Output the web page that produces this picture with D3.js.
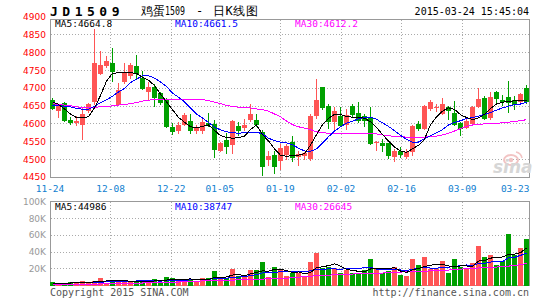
<!DOCTYPE html>
<html lang="zh">
<head>
<meta charset="UTF-8">
<title>JD1509 日K线图</title>
<script src="https://cdn.jsdelivr.net/npm/d3@7"></script>
<style>
  html, body { margin: 0; padding: 0; background: #fff; }
  svg { display: block; }
  text { font-family: "DejaVu Sans Mono", monospace; }
</style>
</head>
<body>
<svg width="545" height="300"></svg>
<script>
// 交易日
var dates = [
  "11-24","11-25","11-26","11-27","11-28","12-01","12-02","12-03","12-04","12-05",
  "12-08","12-09","12-10","12-11","12-12","12-15","12-16","12-17","12-18","12-19",
  "12-22","12-23","12-24","12-25","12-26","12-29","12-30","12-31","01-05","01-06",
  "01-07","01-08","01-09","01-12","01-13","01-14","01-15","01-16","01-19","01-20",
  "01-21","01-22","01-23","01-26","01-27","01-28","01-29","01-30","02-02","02-03",
  "02-04","02-05","02-06","02-09","02-10","02-11","02-12","02-13","02-16","02-17",
  "02-25","02-26","02-27","03-02","03-03","03-04","03-05","03-06","03-09","03-10",
  "03-11","03-12","03-13","03-16","03-17","03-18","03-19","03-20","03-23","03-24"
];

// K线 开 高 低 收
var open = [
  4668,4635,4659,4611,4603,4597,4635,4661,4741,4762,
  4770,4654,4719,4735,4764,4730,4689,4705,4687,4670,
  4590,4579,4597,4608,4579,4579,4602,4600,4523,4555,
  4540,4594,4588,4612,4612,4578,4500,4513,4497,4512,
  4549,4507,4509,4502,4621,4703,4651,4605,4623,4597,
  4650,4631,4622,4620,4547,4546,4546,4506,4523,4506,
  4520,4600,4586,4641,4645,4628,4647,4631,4603,4588,
  4600,4647,4672,4616,4691,4668,4675,4666,4663,4700
];
var high = [
  4672,4656,4661,4619,4621,4644,4660,4866,4805,4791,
  4814,4716,4771,4770,4794,4750,4717,4712,4690,4672,
  4603,4605,4630,4628,4598,4614,4632,4612,4550,4574,
  4612,4605,4615,4656,4627,4582,4525,4525,4545,4545,
  4565,4525,4522,4628,4726,4705,4655,4647,4649,4642,
  4657,4661,4628,4647,4552,4558,4547,4530,4534,4530,
  4597,4609,4652,4668,4656,4672,4650,4665,4605,4614,
  4650,4700,4678,4690,4692,4680,4722,4678,4687,4710
];
var low = [
  4638,4617,4605,4597,4593,4556,4630,4652,4738,4758,
  4717,4650,4712,4725,4725,4695,4667,4647,4652,4588,
  4568,4572,4593,4572,4572,4572,4590,4505,4520,4515,
  4515,4565,4580,4605,4590,4455,4483,4458,4470,4500,
  4492,4483,4500,4495,4614,4640,4586,4582,4593,4582,
  4616,4603,4590,4541,4525,4520,4502,4492,4504,4502,
  4509,4580,4582,4637,4634,4624,4612,4593,4566,4585,
  4596,4645,4612,4612,4659,4650,4631,4640,4659,4656
];
var close = [
  4642,4650,4607,4604,4609,4628,4656,4770,4766,4778,
  4745,4694,4744,4767,4740,4698,4703,4672,4660,4591,
  4576,4597,4626,4579,4588,4605,4596,4527,4547,4534,
  4607,4579,4596,4629,4596,4479,4510,4479,4533,4538,
  4504,4516,4518,4623,4666,4644,4605,4637,4595,4624,
  4625,4607,4607,4544,4550,4539,4511,4523,4513,4522,
  4593,4586,4650,4661,4648,4656,4635,4597,4586,4607,
  4647,4670,4614,4675,4670,4663,4659,4652,4684,4663
];

// 均线
var ma5 = [
  4662,4655,4642,4628,4618,4617,4620,4645,4680,4720,
  4742,4744,4745,4744,4742,4731,4723,4708,4684,4662,
  4640,4618,4605,4592,4589,4593,4597,4582,4567,4562,
  4560,4561,4566,4584,4597,4570,4552,4530,4512,4509,
  4511,4512,4517,4540,4570,4598,4616,4627,4626,4621,
  4619,4619,4616,4606,4590,4570,4552,4535,4524,4520,
  4530,4540,4557,4598,4620,4636,4645,4641,4626,4618,
  4612,4617,4627,4643,4656,4661,4663,4665,4665,4665
];
var ma10 = [
  4652,4651,4650,4648,4644,4641,4641,4650,4660,4668,
  4678,4690,4700,4716,4726,4735,4735,4729,4718,4705,
  4687,4675,4662,4645,4628,4617,4604,4591,4583,4578,
  4575,4574,4575,4577,4577,4572,4560,4553,4549,4547,
  4541,4532,4524,4523,4530,4546,4564,4580,4592,4602,
  4608,4614,4619,4619,4613,4603,4593,4581,4568,4557,
  4549,4549,4558,4567,4575,4584,4597,4604,4609,4615,
  4618,4622,4627,4632,4639,4645,4650,4654,4656,4661
];
var ma30 = [
  4657,4655,4653,4651,4648,4646,4646,4647,4648,4649,
  4651,4653,4655,4657,4660,4664,4667,4668,4669,4669,
  4669,4669,4669,4669,4669,4668,4666,4661,4657,4652,
  4649,4647,4646,4645,4642,4640,4636,4628,4620,4608,
  4598,4592,4588,4584,4578,4575,4574,4573,4573,4573,
  4573,4573,4573,4572,4572,4569,4567,4565,4564,4563,
  4563,4563,4563,4564,4566,4569,4574,4580,4587,4593,
  4597,4599,4600,4601,4602,4603,4605,4607,4609,4612
];

// 成交量 (千手)
var volume = [
  4.3,2.8,2.8,4.3,2.8,5.5,4.3,5.5,9.1,3.6,
  6.7,5.1,6.3,4.0,5.5,5.5,5.5,7.5,4.7,10.3,
  9.1,7.5,5.9,7.5,5.9,8.7,8.7,17.4,8.7,8.7,
  19.8,11.5,11.5,18.6,18.6,28.0,9.9,22.0,19.4,11.5,
  14.6,14.6,9.9,28.4,39.1,20.5,21.7,20.5,15.4,18.6,
  15.4,15.4,18.6,31.6,19.8,15.4,17.4,22.1,12.6,11.5,
  31.6,24.5,34.0,19.4,19.4,29.2,15.4,31.6,21.7,19.4,
  27.3,47.0,34.0,36.3,24.5,29.2,62.0,36.3,44.5,55.0
];
var vma5 = [
  3.0,3.0,3.1,3.2,3.4,3.6,3.9,4.5,5.4,5.6,
  5.8,6.0,6.2,5.1,5.5,5.3,5.4,5.6,5.7,6.7,
  7.4,7.8,7.5,8.1,7.2,7.1,7.3,9.6,9.9,10.4,
  12.7,13.2,12.0,14.0,16.0,17.6,17.3,19.4,19.6,18.2,
  15.5,16.4,14.0,15.8,21.3,22.5,23.9,26.0,23.4,19.3,
  18.3,17.1,16.7,19.9,20.2,20.2,20.6,21.3,17.5,15.8,
  19.0,20.5,22.8,24.2,25.8,25.3,23.5,23.0,23.5,23.5,
  23.1,29.4,29.9,32.8,33.8,34.2,37.2,37.7,39.3,45.0
];
var vma10 = [
  3.0,3.0,3.1,3.2,3.3,3.4,3.6,3.8,4.2,4.5,
  4.7,5.0,5.4,5.3,5.6,5.6,5.7,5.9,5.4,6.1,
  6.4,6.6,6.6,6.9,7.0,7.3,7.6,8.6,9.0,8.8,
  9.9,10.3,10.8,12.0,13.2,15.2,15.3,15.7,16.8,17.1,
  16.6,16.9,16.7,17.7,19.8,19.0,20.2,20.0,19.6,20.3,
  20.4,20.5,21.4,21.7,19.8,19.3,18.9,19.0,18.7,18.0,
  19.6,20.6,22.1,20.9,20.8,22.2,22.0,22.9,23.9,24.7,
  24.2,26.5,26.5,28.2,28.7,28.7,33.3,33.8,36.1,38.7
];
var vma30 = [
  1.6,1.6,1.6,1.7,1.7,1.8,1.8,1.9,2.0,2.2,
  2.4,2.6,2.8,2.9,3.0,3.2,3.3,3.5,3.6,3.9,
  4.1,4.4,4.7,5.0,5.3,5.7,5.9,6.1,6.3,6.5,
  6.7,6.9,7.1,7.4,7.6,7.9,8.3,8.5,8.7,8.9,
  9.5,10.2,10.8,11.4,11.8,12.2,12.6,12.9,13.3,13.7,
  13.9,14.2,14.5,14.7,14.9,15.1,15.4,15.8,16.2,16.5,
  16.8,17.0,17.3,17.6,17.9,18.2,18.6,19.2,19.7,20.3,
  20.7,21.1,21.4,21.7,22.2,22.7,23.3,24.2,25.0,26.6
];

// 刻度
var dateTicks = ["11-24","12-08","12-22","01-05","01-19","02-02","02-16","03-09","03-23"];
var priceTicks = [4450,4500,4550,4600,4650,4700,4750,4800,4850,4900];
var volTicks = [20,40,60,80,100];
var priceLabels = ["MA5:4664.8","MA10:4661.5","MA30:4612.2"];
var volLabels = ["MA5:44986","MA10:38747","MA30:26645"];

var RED = '#ff5555', GREEN = '#00a000';
var lineColors = ['#000000','#0000ff','#ff00ff'];

var svg = d3.select('svg');
var left = 50, right = 529;

// 比例尺
var x = d3.scaleBand().domain(dates).range([left, right]).paddingInner(1/6);
var xg = d3.scalePoint().domain(dates).range([left, right]);
var y = d3.scaleLinear().domain([4450, 4900]).range([177.3, 17.2]);
var yv = d3.scaleLinear().domain([0, 100]).range([285.7, 201.7]);

function px(v) { return Math.floor(v) + 0.5; }

// 边框
svg.append('rect').attr('x', 50.5).attr('y', 19.5).attr('width', 479).attr('height', 158)
  .attr('fill', 'none').attr('stroke', '#999');
svg.append('rect').attr('x', 50.5).attr('y', 201.5).attr('width', 479).attr('height', 84)
  .attr('fill', 'none').attr('stroke', '#999');

// 网格
var grid = svg.append('g').attr('stroke', '#aaa').attr('stroke-dasharray', '1,2');
priceTicks.filter(function(v){ return v > 4450 && v < 4900; }).forEach(function(v){
  grid.append('line').attr('x1', 51).attr('x2', 529).attr('y1', px(y(v))).attr('y2', px(y(v)));
});
volTicks.filter(function(v){ return v < 100; }).forEach(function(v){
  grid.append('line').attr('x1', 51).attr('x2', 529).attr('y1', px(yv(v))).attr('y2', px(yv(v)));
});
dateTicks.slice(1, -1).forEach(function(d){
  var gx = px(xg(d));
  grid.append('line').attr('x1', gx).attr('x2', gx).attr('y1', 20).attr('y2', 177);
  grid.append('line').attr('x1', gx).attr('x2', gx).attr('y1', 202).attr('y2', 285);
});

// sina 水印
var wm = svg.append('g');
wm.append('path').attr('d', 'M504,160 a7,5 0 1,1 14,0 a7,5 0 1,1 -14,0')
  .attr('fill', 'none').attr('stroke', '#f2c4c4').attr('stroke-width', 2);
wm.append('circle').attr('cx', 511).attr('cy', 160).attr('r', 2.2).attr('fill', '#f2c4c4');
wm.append('path').attr('d', 'M516,152 q5,1 6,6').attr('fill', 'none').attr('stroke', '#f2c4c4').attr('stroke-width', 1.5);
wm.append('text').attr('x', 493).attr('y', 173)
  .style('font-family', '"DejaVu Sans", sans-serif').style('font-size', '17px')
  .style('font-weight', 'bold').style('font-style', 'italic')
  .attr('fill', '#d6d6d6').text('sina');

// K线
var candles = svg.append('g').attr('shape-rendering', 'crispEdges');
dates.forEach(function(d, i){
  var up = close[i] >= open[i];
  var col = up ? RED : GREEN;
  var cx = x(d) + 2.5;
  candles.append('line').attr('x1', cx).attr('x2', cx)
    .attr('y1', Math.round(y(high[i]))).attr('y2', Math.round(y(low[i])))
    .attr('stroke', col);
  var top = Math.round(y(Math.max(open[i], close[i])));
  var bot = Math.round(y(Math.min(open[i], close[i])));
  candles.append('rect').attr('x', x(d)).attr('y', top)
    .attr('width', x.bandwidth()).attr('height', Math.max(1, bot - top))
    .attr('fill', col);
});

// 成交量
svg.append('g').attr('shape-rendering', 'crispEdges')
  .selectAll('rect').data(volume).enter().append('rect')
  .attr('x', function(v, i){ return x(dates[i]); })
  .attr('y', function(v){ return Math.round(yv(v)); })
  .attr('width', x.bandwidth())
  .attr('height', function(v){ return 286 - Math.round(yv(v)); })
  .attr('fill', function(v, i){ return close[i] >= open[i] ? RED : GREEN; });

// 均线
var linePrice = d3.line().x(function(d, i){ return x(dates[i]) + 2.5; }).y(function(d){ return y(d); });
var lineVol = d3.line().x(function(d, i){ return x(dates[i]) + 2.5; }).y(function(d){ return yv(d); });
[ma30, ma10, ma5].forEach(function(s, k){
  svg.append('path').attr('d', linePrice(s)).attr('fill', 'none')
    .attr('stroke', lineColors[2 - k]).attr('stroke-width', 1).attr('shape-rendering', 'crispEdges');
});
[vma30, vma10, vma5].forEach(function(s, k){
  svg.append('path').attr('d', lineVol(s)).attr('fill', 'none')
    .attr('stroke', lineColors[2 - k]).attr('stroke-width', 1).attr('shape-rendering', 'crispEdges');
});

// 轴标签
var txt = svg.append('g').style('font-size', '9.5px');
priceTicks.forEach(function(v){
  txt.append('text').attr('x', 46).attr('y', y(v) + 3).attr('text-anchor', 'end')
    .style('font-family', '"DejaVu Sans", sans-serif').style('font-size', '9px')
    .attr('fill', '#ff0000').text(v);
});
volTicks.forEach(function(v){
  txt.append('text').attr('x', 46).attr('y', yv(v) + 3).attr('text-anchor', 'end')
    .style('font-family', '"DejaVu Sans", sans-serif').style('font-size', '9px')
    .attr('fill', '#999').text(v + 'K');
});
dateTicks.forEach(function(d, k){
  var last = k === dateTicks.length - 1;
  txt.append('text').attr('x', last ? 529.5 : xg(d)).attr('y', 191.5)
    .attr('text-anchor', last ? 'end' : 'middle')
    .attr('fill', '#1080d0').text(d);
});

// 均线数值
priceLabels.forEach(function(t, k){
  txt.append('text').attr('x', 55 + 120 * k).attr('y', 27).attr('fill', lineColors[k]).text(t);
});
volLabels.forEach(function(t, k){
  txt.append('text').attr('x', 55 + 120 * k).attr('y', 209.5).attr('fill', lineColors[k]).text(t);
});

// 标题
svg.append('text').attr('x', 50).attr('y', 16)
  .style('font-size', '13px').style('font-weight', 'bold').style('letter-spacing', '4.5px')
  .attr('fill', '#000').text('JD1509');
var cn = svg.append('g').style('font-family', '"Noto Sans CJK SC", sans-serif')
  .style('font-size', '12px').attr('fill', '#000');
cn.append('text').attr('x', 141).attr('y', 15).text('鸡蛋');
cn.append('text').attr('x', 165).attr('y', 15)
  .attr('textLength', 20).attr('lengthAdjust', 'spacingAndGlyphs').text('1509');
cn.append('text').attr('x', 196).attr('y', 15).text('-');
cn.append('text').attr('x', 213).attr('y', 15).style('letter-spacing', '0.5px').text('日K线图');
svg.append('text').attr('x', 529).attr('y', 15).attr('text-anchor', 'end')
  .style('font-size', '10px').attr('fill', '#000').text('2015-03-24 15:45:04');

// 页脚
svg.append('text').attr('x', 50).attr('y', 296)
  .style('font-size', '10px').attr('fill', '#555').text('Copyright 2015 SINA.COM');
svg.append('text').attr('x', 529).attr('y', 296).attr('text-anchor', 'end')
  .style('font-size', '10px').attr('fill', '#555').text('http://finance.sina.com.cn');
</script>
</body>
</html>
